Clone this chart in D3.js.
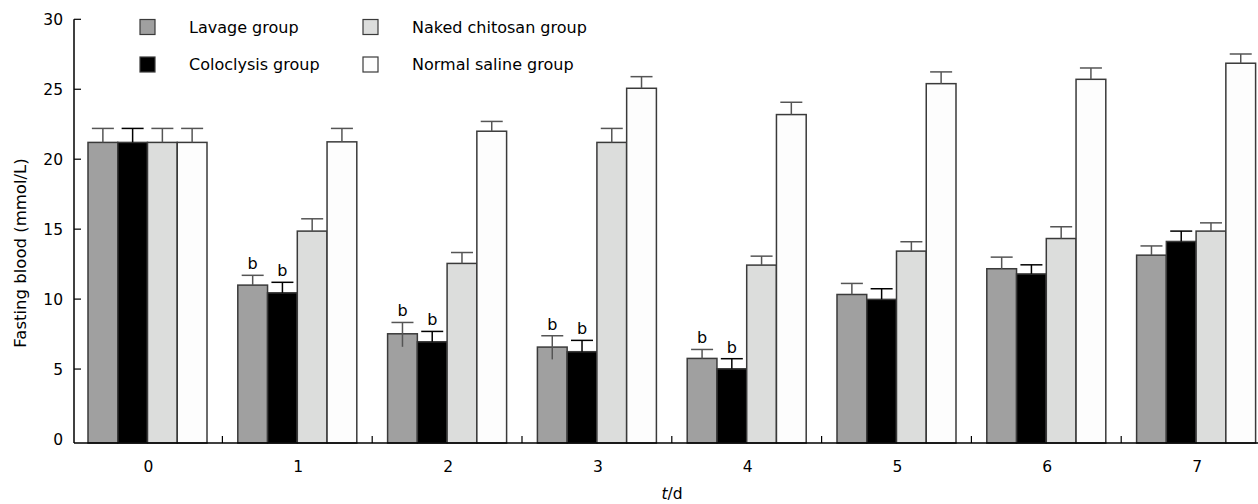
<!DOCTYPE html>
<html><head><meta charset="utf-8">
<script src="https://cdn.jsdelivr.net/npm/d3@7"></script>
<style>body{margin:0;background:#fff}svg{display:block}text{font-family:"DejaVu Sans",Verdana,sans-serif}</style>
</head><body>
<svg id="c" width="1258" height="504"></svg>
<script>
const days = ["0","1","2","3","4","5","6","7"];
const seriesNames = ["Lavage group","Coloclysis group","Naked chitosan group","Normal saline group"];
const seriesColors = ["#a0a0a0","#000000","#dcdddc","#fdfdfd"];
const lavage      = [21.2, 11.0, 7.52, 6.57, 5.76, 10.33, 12.17, 13.14];
const coloclysis  = [21.2, 10.45, 6.95, 6.24, 5.02, 9.98, 11.8, 14.12];
const chitosan    = [21.2, 14.86, 12.55, 21.2, 12.43, 13.43, 14.33, 14.86];
const saline      = [21.2, 21.24, 22.0, 25.07, 23.19, 25.4, 25.71, 26.86];
const lavageErr     = [1.0, 0.7, 0.81, 0.81, 0.64, 0.79, 0.83, 0.66];
const coloclysisErr = [1.0, 0.75, 0.74, 0.81, 0.72, 0.76, 0.65, 0.74];
const chitosanErr   = [1.0, 0.88, 0.78, 1.0, 0.64, 0.67, 0.84, 0.59];
const salineErr     = [1.0, 0.96, 0.7, 0.83, 0.88, 0.84, 0.81, 0.66];
const lavageLowerErr = [0, 0, 0.93, 0.88, 0, 0, 0, 0];
const sigMarks = [[0,0],[1,1],[1,1],[1,1],[1,1],[0,0],[0,0],[0,0]]; // "b" over lavage, coloclysis
const yTicks = [0,5,10,15,20,25,30];

const values = [lavage, coloclysis, chitosan, saline];
const errs = [lavageErr, coloclysisErr, chitosanErr, salineErr];
const lowerErrs = [lavageLowerErr, null, null, null];

const svg = d3.select("#c");
const axisX = 74, baseY = 443;
const y = d3.scaleLinear().domain([0,30]).range([439, 19.3]);
const x0 = d3.scaleBand().domain(days).range([72.6, 1271]).padding(0);
const x1 = d3.scaleBand().domain(d3.range(4)).range([15.4, x0.bandwidth()-15.4]).padding(0);

// bars
days.forEach((d, i) => {
  const g = svg.append("g").attr("transform", `translate(${x0(d)},0)`);
  values.forEach((vals, s) => {
    const v = vals[i];
    g.append("rect").attr("x", x1(s)).attr("y", y(v))
      .attr("width", x1.bandwidth()).attr("height", baseY - y(v))
      .attr("fill", seriesColors[s]).attr("stroke", "#3a3a3a").attr("stroke-width", 1.5);
  });
  values.forEach((vals, s) => {
    const v = vals[i], e = errs[s][i];
    const cx = x1(s) + x1.bandwidth()/2;
    const lo = lowerErrs[s] ? lowerErrs[s][i] : 0;
    const col = s === 1 ? "#000" : "#555";
    g.append("line").attr("x1", cx).attr("x2", cx).attr("y1", y(v - lo)).attr("y2", y(v + e))
      .attr("stroke", col).attr("stroke-width", 1.5);
    g.append("line").attr("x1", cx - 11).attr("x2", cx + 11).attr("y1", y(v + e)).attr("y2", y(v + e))
      .attr("stroke", col).attr("stroke-width", 1.5);
    if (s < 2 && sigMarks[i][s]) {
      g.append("text").attr("x", cx).attr("y", y(v + e) - 6).attr("text-anchor", "middle")
        .attr("font-size", 16).attr("fill", "#000").text("b");
    }
  });
});

// y axis
svg.append("line").attr("x1", axisX).attr("x2", axisX).attr("y1", y(30)).attr("y2", baseY)
  .attr("stroke", "#000").attr("stroke-width", 1.5);
yTicks.forEach(t => {
  if (t > 0) svg.append("line").attr("x1", axisX).attr("x2", axisX + 7).attr("y1", y(t)).attr("y2", y(t))
    .attr("stroke", "#000").attr("stroke-width", 1.2);
  svg.append("text").attr("x", 63).attr("y", y(t)).attr("dy", "0.36em").attr("text-anchor", "end")
    .attr("font-size", 15.5).attr("fill", "#000").text(t);
});
svg.append("text").attr("transform", "translate(26,253) rotate(-90)").attr("text-anchor", "middle")
  .attr("font-size", 16.5).attr("fill", "#000").text("Fasting blood (mmol/L)");

// x axis
svg.append("line").attr("x1", axisX).attr("x2", 1258).attr("y1", baseY).attr("y2", baseY)
  .attr("stroke", "#000").attr("stroke-width", 1.5);
days.forEach((d, i) => {
  if (i > 0) svg.append("line").attr("x1", x0(d)).attr("x2", x0(d)).attr("y1", baseY).attr("y2", baseY - 7)
    .attr("stroke", "#000").attr("stroke-width", 1.2);
  svg.append("text").attr("x", x0(d) + x0.bandwidth()/2 + 1).attr("y", 472).attr("text-anchor", "middle")
    .attr("font-size", 15.5).attr("fill", "#000").text(d);
});
const xl = svg.append("text").attr("x", 672).attr("y", 499).attr("text-anchor", "middle")
  .attr("font-size", 15.5).attr("fill", "#000");
xl.append("tspan").attr("font-style", "italic").text("t");
xl.append("tspan").text("/d");

// legend
const legPos = [[140,19.5],[140,57],[363,19.5],[363,57]];
seriesNames.forEach((n, s) => {
  const [lx, ly] = legPos[s];
  svg.append("rect").attr("x", lx).attr("y", ly).attr("width", 15).attr("height", 15)
    .attr("fill", seriesColors[s]).attr("stroke", "#3a3a3a").attr("stroke-width", 1.2);
  svg.append("text").attr("x", lx + 49).attr("y", ly + 7.5).attr("dy", "0.36em")
    .attr("font-size", 16).attr("fill", "#000").text(n);
});
</script>
</body></html>
